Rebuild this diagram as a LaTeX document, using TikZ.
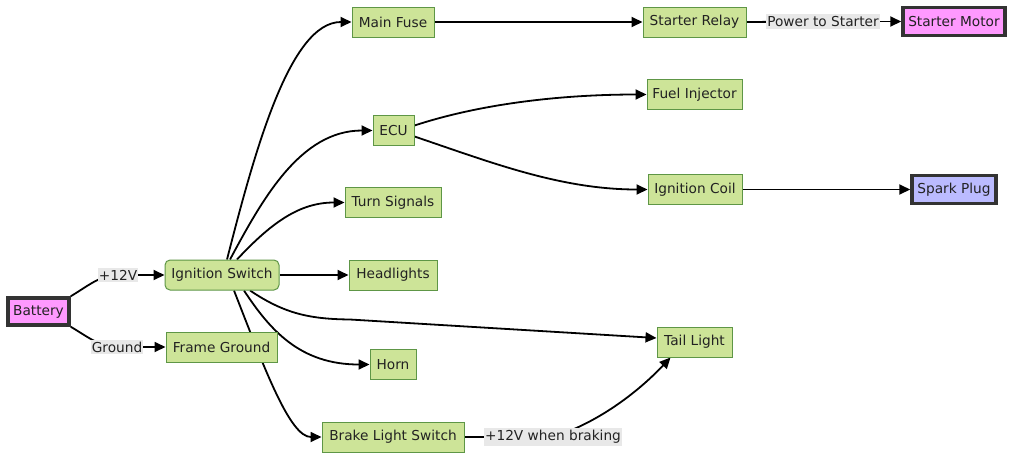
\documentclass[tikz,border=0pt]{standalone}
\usepackage{fontspec}
\setmainfont{DejaVu Sans}
\usetikzlibrary{arrows.meta,backgrounds}
\definecolor{gfill}{HTML}{CDE498}
\definecolor{gdraw}{HTML}{5E9646}
\definecolor{pinkfill}{HTML}{FF99FF}
\definecolor{bluefill}{HTML}{BBBBFF}
\definecolor{darkedge}{HTML}{333333}
\definecolor{labbg}{HTML}{E8E8E8}
\definecolor{txt}{HTML}{222222}
\tikzset{
  base/.style={font=\fontsize{13.7}{16}\selectfont, text=txt, minimum height=30, inner xsep=1, inner ysep=2},
  gbox/.style={base, draw=gdraw, fill=gfill, line width=1},
  rbox/.style={gbox, rounded corners=5},
  pbox/.style={base, draw=darkedge, fill=pinkfill, line width=3.5},
  bbox/.style={base, draw=darkedge, fill=bluefill, line width=3.5},
  elabel/.style={font=\fontsize{13.7}{16}\selectfont, text=txt, fill=labbg, inner xsep=1, inner ysep=2},
  wire/.style={draw=black, line width=1.8},
  arrow/.style={wire, -{Triangle[length=11,width=10]}}
}
\begin{document}
\begin{tikzpicture}[x=1pt, y=-1pt]
\useasboundingbox (0,0) rectangle (1024,464);
% nodes
\node[pbox, minimum width=61, minimum height=27] (bat) at (38.5,311.5) {Battery};
\node[rbox, minimum width=114] (is) at (222,275) {Ignition Switch};
\node[gbox, minimum width=111] (fg) at (221.5,347) {Frame Ground};
\node[gbox, minimum width=82] (mf) at (393,22) {Main Fuse};
\node[gbox, minimum width=41] (ecu) at (393.5,130.5) {ECU};
\node[gbox, minimum width=96] (ts) at (393,202.5) {Turn Signals};
\node[gbox, minimum width=88] (hl) at (393,275) {Headlights};
\node[gbox, minimum width=46] (horn) at (393,364.5) {Horn};
\node[gbox, minimum width=142] (bls) at (393,437) {Brake Light Switch};
\node[gbox, minimum width=103] (sr) at (694.5,22) {Starter Relay};
\node[gbox, minimum width=95] (fi) at (694.5,94.5) {Fuel Injector};
\node[gbox, minimum width=94] (ic) at (695,189.5) {Ignition Coil};
\node[gbox, minimum width=75] (tl) at (694.5,342) {Tail Light};
\node[pbox, minimum width=102, minimum height=28] (sm) at (954,21.5) {Starter Motor};
\node[bbox, minimum width=84, minimum height=28] (sp) at (954,189.5) {Spark Plug};
% edge labels
\node[elabel] (l1) at (118,275) {+12V};
\node[elabel] (l2) at (117,347) {Ground};
\node[elabel] (l3) at (823,21.5) {Power to Starter};
\node[elabel] (l4) at (553,437) {+12V when braking};
% edges
\begin{scope}[on background layer]
\fill[white] (0,0) rectangle (1024,464);
\draw[wire] (bat.north east) .. controls (88,286) and (100,275) .. (l1.center);
\draw[arrow] (l1.center) -- (is.west);
\draw[wire] (bat.south east) .. controls (88,337) and (100,347) .. (l2.center);
\draw[arrow] (l2.center) -- (fg.west);
\draw[arrow] ([xshift=5]is.north) .. controls (255,150) and (290,22) .. (mf.west);
\draw[arrow] ([xshift=8]is.north) .. controls (262,200) and (300,130.5) .. (ecu.west);
\draw[arrow] ([xshift=15]is.north) .. controls (272,222) and (300,202.5) .. (ts.west);
\draw[arrow] (is.east) -- (hl.west);
\draw[arrow] ([xshift=28]is.south) .. controls (285,314) and (310,319) .. (350,319.5) -- ([yshift=4]tl.west);
\draw[arrow] ([xshift=22]is.south) .. controls (270,330) and (300,364.5) .. (horn.west);
\draw[arrow] ([xshift=12]is.south) .. controls (265,370) and (290,437) .. (bls.west);
\draw[arrow] (mf.east) -- (sr.west);
\draw[wire] (sr.east) -- (l3.center);
\draw[arrow] (l3.center) -- (sm.west);
\draw[arrow] ([yshift=5]ecu.east) .. controls (480,104) and (560,94.5) .. (fi.west);
\draw[arrow] ([yshift=-6]ecu.east) .. controls (490,162) and (560,189.5) .. (ic.west);
\draw[arrow] (ic.east) -- (sp.west);
\draw[wire] (bls.east) -- (l4.center);
\draw[arrow] (l4.center) .. controls (600,422) and (640,390) .. ([xshift=-24]tl.south);
\end{scope}
\end{tikzpicture}
\end{document}
